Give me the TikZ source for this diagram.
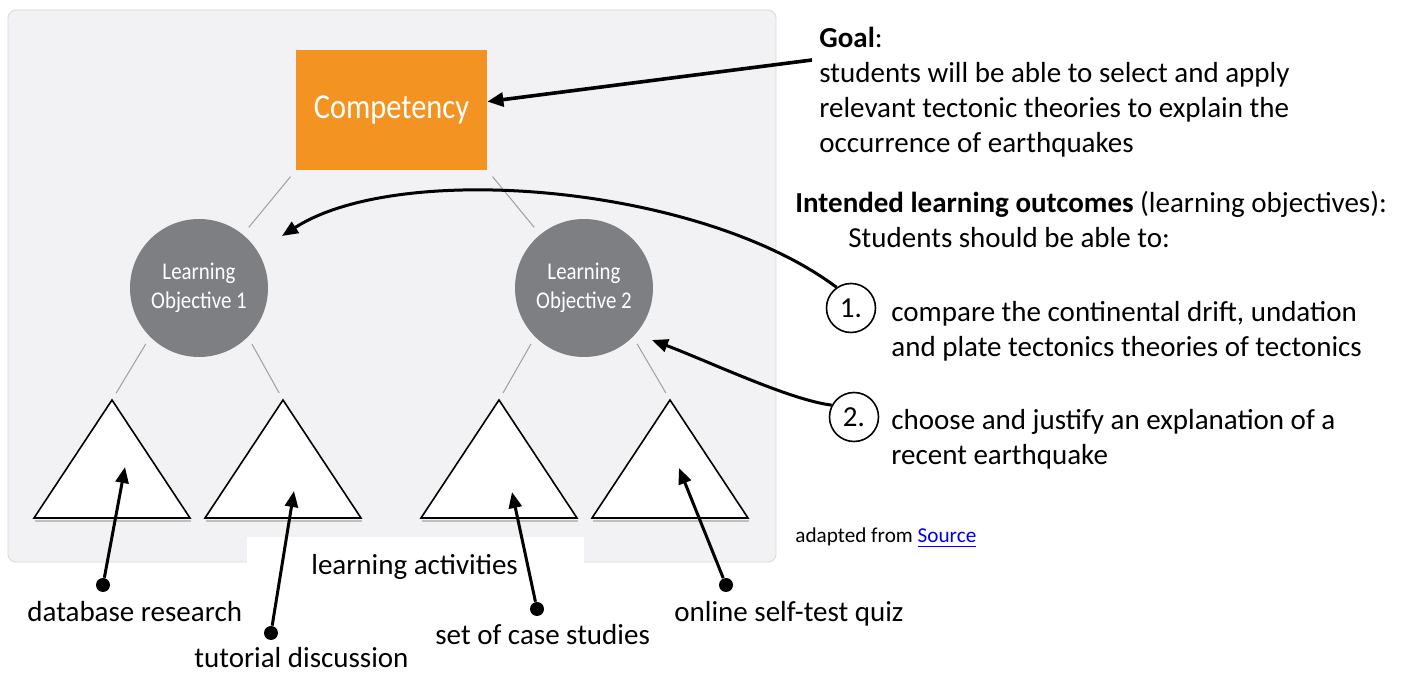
\documentclass[tikz,border=0pt]{standalone}
\usepackage{fontspec}
\setmainfont{Carlito}
\newfontfamily\headfont{Carlito}[FakeStretch=0.87]
\usetikzlibrary{arrows.meta}

\definecolor{panelgray}{HTML}{F2F2F4}
\definecolor{panelline}{HTML}{D8D8DA}
\definecolor{comporange}{HTML}{F39322}
\definecolor{objgray}{HTML}{7E7F83}
\definecolor{linkblue}{HTML}{0000EE}

\tikzset{
  comp/.style={fill=comporange, minimum width=95.5pt, minimum height=60pt, inner sep=0pt,
    text=white, font=\headfont\fontsize{17.5}{20}\selectfont},
  objective/.style={circle, fill=objgray, minimum size=69pt, inner sep=0pt, text=white,
    align=center, font=\headfont\fontsize{12}{14.5}\selectfont},
  tree/.style={draw=gray!75, line width=0.5pt, shorten <=4pt, shorten >=4pt},
  activity/.style={draw=black, fill=white, line width=0.8pt, line join=miter},
  baseshade/.style={draw=black!25, line width=1pt},
  note/.style={inner sep=0pt, align=left, font=\fontsize{14.5}{17.65}\selectfont},
  numring/.style={circle, draw=black, line width=0.8pt, minimum size=24.5pt, inner sep=0pt,
    font=\fontsize{14.5}{17.65}\selectfont},
  dot/.style={circle, fill=black, minimum size=7pt, inner sep=0pt},
  pointer/.style={line width=1.5pt, -{Triangle[length=8pt,width=6.5pt]}},
  goalarrow/.style={line width=1.8pt, -{Triangle[length=8pt,width=7pt]}}
}

\begin{document}
\begin{tikzpicture}[x=0.5pt,y=-0.5pt]
  \useasboundingbox (0,0) rectangle (1405,673);

  % Grey panel
  \draw[panelline, fill=panelgray, rounded corners=4pt] (8,10) rectangle (776,562);
  \fill[white] (247,537) rectangle (584,600);

  % Competency
  \node[comp] (comp) at (391.5,110) {Competency};

  % Learning objectives
  \node[objective] (lo1) at (199,288) {Learning\\Objective 1};
  \node[objective] (lo2) at (584,288) {Learning\\Objective 2};
  \draw[tree, shorten >=4.5pt] (comp.south west) -- (lo1);
  \draw[tree, shorten >=4.5pt] (comp.south east) -- (lo2);

  % Activity triangles
  \foreach \ax/\nm in {112/a1,283/a2,499/a3,670/a4} {
    \coordinate (\nm) at (\ax,400);
    \draw[baseshade] (\ax-77,521) -- (\ax+79,521);
    \draw[activity] (\ax-78,518) -- (\nm) -- (\ax+78,518) -- cycle;
  }
  \draw[tree] (lo1.south west) -- (a1);
  \draw[tree] (lo1.south east) -- (a2);
  \draw[tree] (lo2.south west) -- (a3);
  \draw[tree] (lo2.south east) -- (a4);

  % Goal (base = last line)
  \node[note, anchor=base west] (goal) at (819,153)
    {\textbf{Goal}:\\students will be able to select and apply\\relevant tectonic theories to explain the\\occurrence of earthquakes};
  \coordinate (goaltail) at (812,60);
  \draw[goalarrow] (goaltail) -- (comp.5);

  % Intended learning outcomes
  \node[note, anchor=base west] (ilo) at (795,213)
    {\textbf{Intended learning outcomes} (learning objectives):};
  \node[note, anchor=base west] (intro) at (848,248) {Students should be able to:};
  \node[numring] (c1) at (851,308) {1.};
  \node[note, anchor=base west] (obj1) at (891,357)
    {compare the continental drift, undation\\and plate tectonics theories of tectonics};
  \node[numring] (c2) at (854,417) {2.};
  \node[note, anchor=base west] (obj2) at (891,465)
    {choose and justify an explanation of a\\recent earthquake};
  \node[anchor=base west, inner sep=0pt, font=\fontsize{10.6}{13}\selectfont] (src) at (795,543)
    {adapted from \textcolor{linkblue}{\underline{Source}}};

  \coordinate (lo1tip) at (282,236);
  \coordinate (lo2tip) at (652,340);
  \draw[pointer] (c1.125) .. controls (700,185) and (400,160) .. (lo1tip);
  \draw[pointer] (c2.152) .. controls (790,400) and (710,362) .. (lo2tip);

  % Learning activities
  \node[note, anchor=base west] (acts) at (311,575) {learning activities};
  \foreach \nm/\dx/\dy/\tx/\ty in {1/103/585/125/467, 2/271/633/294/491,
                                  3/537/609/512/492, 4/726/585/679/468} {
    \node[dot] (d\nm) at (\dx,\dy) {};
    \coordinate (t\nm) at (\tx,\ty);
    \draw[pointer] (d\nm) -- (t\nm);
  }
  \node[note, anchor=base west] (lab1) at (27,622) {database research};
  \node[note, anchor=base west] (lab2) at (194,668) {tutorial discussion};
  \node[note, anchor=base west] (lab3) at (435,645) {set of case studies};
  \node[note, anchor=base west] (lab4) at (674,622) {online self-test quiz};
\end{tikzpicture}
\end{document}
